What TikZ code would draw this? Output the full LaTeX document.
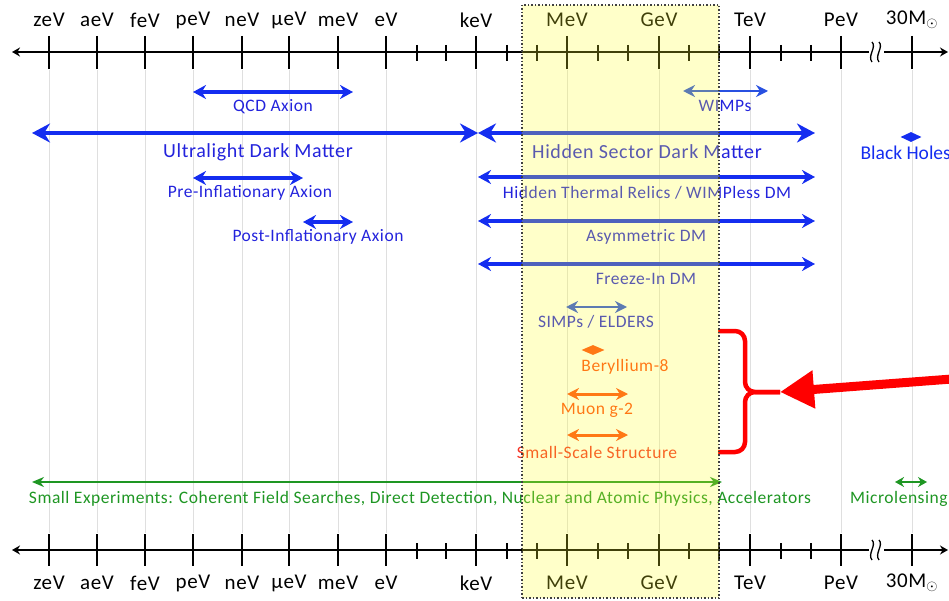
\documentclass[tikz,border=0pt]{standalone}
\usepackage{fontspec}
\setmainfont{Carlito}
\newfontfamily\lsfont[LetterSpace=3]{Carlito}
\usetikzlibrary{arrows.meta,shapes.geometric}
\definecolor{dmblue}{RGB}{20,45,240}
\definecolor{txtblue}{RGB}{35,35,220}
\definecolor{lblue}{RGB}{40,80,225}
\definecolor{dmorange}{RGB}{255,75,15}
\definecolor{ssred}{RGB}{245,50,35}
\definecolor{dmgreen}{RGB}{30,150,35}
\definecolor{boxfill}{RGB}{255,255,40}
\tikzset{
  axisline/.style={line width=2.6pt, black, {Stealth[length=8pt,width=9pt]}-{Stealth[length=8pt,width=9pt]}},
  majtick/.style={line width=2.2pt, black},
  mintick/.style={line width=1.9pt, black},
  gridline/.style={gray!25, line width=0.6pt},
  axlbl/.style={font=\lsfont\fontsize{21}{23}\selectfont, inner sep=0pt},
  lbl/.style={font=\lsfont\fontsize{17.5}{19}\selectfont, inner sep=0pt},
  biglbl/.style={font=\lsfont\fontsize{20}{22}\selectfont, inner sep=0pt},
  rngbig/.style={dmblue, line width=4.8pt, {Stealth[length=18pt,width=19pt]}-{Stealth[length=18pt,width=19pt]}},
  rngmid/.style={dmblue, line width=3.4pt, {Stealth[length=13pt,width=14pt]}-{Stealth[length=13pt,width=14pt]}},
  rngthin/.style={lblue, line width=2.8pt, {Stealth[length=12pt,width=12pt]}-{Stealth[length=12pt,width=12pt]}},
  rngor/.style={dmorange, line width=3pt, {Stealth[length=12pt,width=12pt]}-{Stealth[length=12pt,width=12pt]}},
  rnggr/.style={dmgreen, line width=2.2pt, {Stealth[length=12pt,width=10pt]}-{Stealth[length=12pt,width=10pt]}},
  dmdiamond/.style={diamond, aspect=2.2, inner sep=0pt, minimum width=21pt, minimum height=10pt},
}
\begin{document}
\begin{tikzpicture}[x=1pt,y=-1pt]
\useasboundingbox (0,0) rectangle (949,601);

% grid lines
\foreach \x in {49,97,145,193,242,289,338,386,476,567,659,750,841,912}
  \draw[gridline] (\x,70) -- (\x,533);

% axes
\coordinate (tL) at (12,52); \coordinate (tR) at (948,52);
\coordinate (bL) at (12,550); \coordinate (bR) at (948,550);
\draw[axisline] (tL) -- (tR);
\draw[axisline] (bL) -- (bR);
\foreach \x/\t [count=\i] in {49/zeV,97/aeV,145/feV,193/peV,242/neV,289/µeV,338/meV,386/eV,476/keV,567/MeV,659/GeV,750/TeV,841/PeV,912/30M$_\odot$}{
  \draw[majtick] (\x,36) -- (\x,69);
  \draw[majtick] (\x,534) -- (\x,566);
  \node[axlbl] (tl\i) at (\x,20) {\t};
  \node[axlbl] (bl\i) at (\x,583) {\t};
}
\foreach \x in {417,446,507,537,598,628,689,719,781,811}{
  \draw[mintick] (\x,45) -- (\x,61);
  \draw[mintick] (\x,543) -- (\x,559);
}
% axis breaks
\foreach \y in {52,550}{
  \fill[white] (869,\y-10) rectangle (884,\y+10);
  \draw[line width=1.3pt] (872,\y-10) .. controls (877,\y-5) and (867,\y+4) .. (872,\y+10);
  \draw[line width=1.3pt] (879,\y-10) .. controls (884,\y-5) and (874,\y+4) .. (879,\y+10);
}

% QCD Axion
\coordinate (qa) at (193,92); \coordinate (qb) at (353,92);
\draw[rngmid] (qa) -- (qb);
\node[lbl, txtblue] (qcd) at (273,107) {QCD Axion};
% WIMPs
\coordinate (wa) at (683,91); \coordinate (wb) at (768,91);
\draw[rngthin] (wa) -- (wb);
\node[lbl, txtblue] (wimp) at (725,106) {WIMPs};
% Ultralight
\coordinate (ua) at (32,133); \coordinate (ub) at (478,133);
\draw[rngbig] (ua) -- (ub);
\node[biglbl, txtblue] (ul) at (258,152) {Ultralight Dark Matter};
% Hidden sector
\coordinate (ha) at (478,133); \coordinate (hb) at (815,133);
\draw[rngbig] (ha) -- (hb);
\node[biglbl, txtblue] (hs) at (647,152) {Hidden Sector Dark Matter};
% Black holes
\node[dmdiamond, fill=dmblue] (bhd) at (911,137) {};
\node[biglbl, dmblue, anchor=east, font=\fontsize{19.5}{21}\selectfont] (bh) at (951,153) {Black Holes};
% Pre-inflationary
\coordinate (pa) at (193,178); \coordinate (pb) at (303,178);
\draw[rngmid] (pa) -- (pb);
\node[lbl, txtblue] (pre) at (250,193) {Pre-Inflationary Axion};
% Hidden thermal
\coordinate (hta) at (478,177); \coordinate (htb) at (815,177);
\draw[rngmid] (hta) -- (htb);
\node[lbl, txtblue] (ht) at (647,193) {Hidden Thermal Relics / WIMPless DM};
% Post-inflationary
\coordinate (poa) at (303,222); \coordinate (pob) at (353,222);
\draw[rngmid] (poa) -- (pob);
\node[lbl, txtblue] (post) at (318,237) {Post-Inflationary Axion};
% Asymmetric
\coordinate (aa) at (478,221); \coordinate (ab) at (815,221);
\draw[rngmid] (aa) -- (ab);
\node[lbl, txtblue] (asym) at (646,237) {Asymmetric DM};
% Freeze-in
\coordinate (fa) at (478,264); \coordinate (fb) at (815,264);
\draw[rngmid] (fa) -- (fb);
\node[lbl, txtblue] (fi) at (646,279) {Freeze-In DM};
% SIMPs
\coordinate (sa) at (566,307); \coordinate (sb) at (627,307);
\draw[rngthin] (sa) -- (sb);
\node[lbl, txtblue] (simp) at (596,322) {SIMPs / ELDERS};
% Beryllium
\node[dmdiamond, fill=dmorange, minimum width=23pt] (bed) at (593,350) {};
\node[lbl, dmorange] (be) at (625,367) {Beryllium-8};
% Muon
\coordinate (ma) at (567,394); \coordinate (mb) at (628,394);
\draw[rngor] (ma) -- (mb);
\node[lbl, dmorange] (mu) at (597,410) {Muon g-2};
% Small-scale
\coordinate (ssa) at (567,435); \coordinate (ssb) at (628,435);
\draw[rngor] (ssa) -- (ssb);
\node[lbl, ssred] (ss) at (597,452) {Small-Scale Structure};

% green
\coordinate (ga) at (32,482); \coordinate (gb) at (722,482);
\draw[rnggr] (ga) -- (gb);
\node[lbl, dmgreen] (se) at (420,499) {Small Experiments: Coherent Field Searches, Direct Detection, Nuclear and Atomic Physics, Accelerators};
\coordinate (mla) at (895,482); \coordinate (mlb) at (927,482);
\draw[rnggr, line width=2.6pt, {Stealth[length=9pt,width=10pt]}-{Stealth[length=9pt,width=10pt]}] (mla) -- (mlb);
\node[lbl, dmgreen, anchor=west] (ml) at (850,499) {Microlensing};

% red bracket and arrow
\coordinate (brT) at (718,331); \coordinate (brB) at (718,452); \coordinate (brM) at (780,392);
\draw[red, line width=4.5pt, rounded corners=10pt] (brT) -- (745,331) -- (745,392) -- (brM);
\draw[red, line width=4.5pt, rounded corners=10pt] (brB) -- (745,452) -- (745,392) -- (brM);
\coordinate (rarr) at (952,379);
\draw[red, line width=9pt, -{Triangle[length=34pt,width=36pt]}] (rarr) -- (brM);

% yellow box
\node[draw=black!75, fill=boxfill, fill opacity=0.25, draw opacity=1, line width=1.5pt, dash pattern=on 1.5pt off 2pt, minimum width=197pt, minimum height=593pt, inner sep=0pt] (ybox) at (620.5,301.5) {};
\end{tikzpicture}
\end{document}
